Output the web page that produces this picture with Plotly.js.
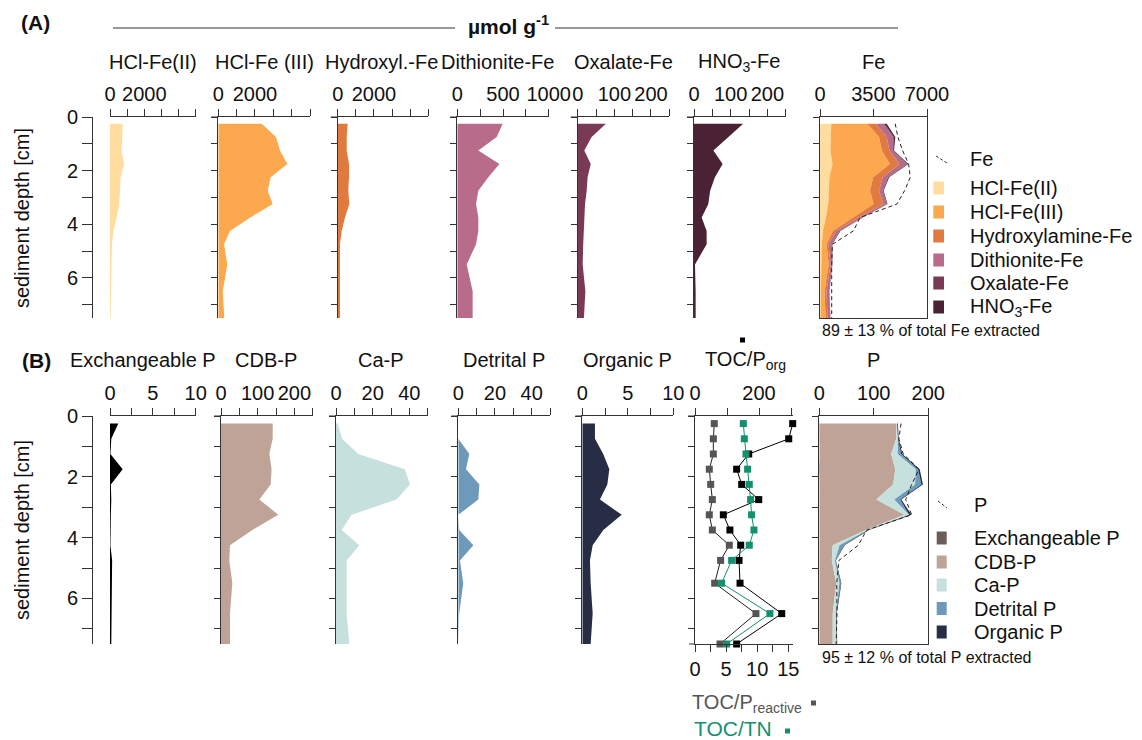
<!DOCTYPE html>
<html><head><meta charset="utf-8">
<script src="https://cdn.plot.ly/plotly-3.0.1.min.js"></script>
<style>html,body{margin:0;padding:0;background:#fff}#chart{width:1142px;height:740px}</style>
</head><body><div id="chart"></div>
<script>
// ---------- data ----------
const depth = [0.25,0.75,1.25,1.75,2.25,2.75,3.25,3.75,4.25,4.75,5.5,6.5,7.5];

// Fe fractions (µmol g-1)
const hclFe2   = [739, 718, 681, 817, 622, 583, 544, 389, 194, 117, 78, 58, 39];
const hclFe3   = [2366, 3146, 3364, 3762, 2857, 2693, 2966, 1745, 638, 311, 491, 240, 327];
const hydroxFe = [552, 497, 497, 624, 624, 585, 640, 403, 221, 127, 127, 127, 127];
const dithFe   = [497, 431, 230, 460, 339, 230, 205, 230, 230, 205, 103, 168, 168];
const oxalFe   = [77, 38, 18, 35.5, 27, 24.6, 20, 18, 17, 15, 13.6, 21, 17];
const hno3Fe   = [134, 94, 53, 78, 57, 44, 39, 21, 34.5, 34.5, 2.7, 4.5, 4.5];
const totalFe  = [4920, 5096, 5402, 5795, 5904, 5532, 5030, 2624, 2187, 809, 765, 765, 765];

// P fractions (µmol g-1)
const exchP    = [0.97, 0.15, 0.05, 1.48, 0.1, 0.15, 0.1, 0.08, 0.05, 0.25, 0.2, 0.15, 0.15];
const cdbP     = [140.9, 140.9, 131.8, 138, 135.4, 104.5, 156.3, 85.4, 24.5, 22.7, 30.9, 24.5, 24.5];
const caP      = [1, 3.3, 12.2, 37.6, 40.3, 33, 8.5, 3.1, 12.7, 5.8, 5.8, 5.8, 7.3];
const detrP    = [0, 0, 6, 4.2, 11.5, 10.9, 0, 0.5, 8.2, 0.9, 2.7, 0.5, 0];
const orgP     = [1.39, 1.39, 2.3, 2.97, 2.75, 1.94, 4.33, 2.31, 1.14, 0.84, 0.92, 1.14, 0.92];
const totalP   = [150, 146, 154, 183, 169.5, 158.5, 169.5, 87, 71.6, 36, 32, 32.5, 31];

// ratios
const tocPorg     = [305, 292.7, 167.7, 130, 145.8, 199, 88.5, 109, 142.7, 137.5, 140.6, 270.8, 130];
const tocPreact   = [3.1, 2.95, 2.95, 2.3, 2.52, 2.79, 2.3, 2.79, 5.52, 4.12, 3.16, 9.8, 4.02];
const tocTN       = [7.77, 7.93, 8.2, 8.46, 8.73, 8.94, 9.1, 9.48, 8.73, 5.89, 4.28, 12.05, 5.09];

// labels
const feNames  = ['HCl-Fe(II)','HCl-Fe(III)','Hydroxylamine-Fe','Dithionite-Fe','Oxalate-Fe','HNO<sub>3</sub>-Fe'];
const feTitles = ['HCl-Fe(II)','HCl-Fe (III)','Hydroxyl.-Fe','Dithionite-Fe','Oxalate-Fe','HNO<sub>3</sub>-Fe','Fe'];
const pNames   = ['Exchangeable P','CDB-P','Ca-P','Detrital P','Organic P'];
const pTitles  = ['Exchangeable P','CDB-P','Ca-P','Detrital P','Organic P','TOC/P<sub>org</sub>','P'];
const depthTicks = [0,1,2,3,4,5,6,7];
const depthText  = ['0','','2','','4','','6',''];

// ---------- styling / geometry ----------
const W = 1142, H = 740;
const PX = v => v / W, PY = v => 1 - v / H;
const FONT = 'Liberation Sans, Arial, sans-serif';
const AX = '#333';
const feColors = ['#fedd9e','#fca84e','#e07a3e','#b96b8a','#7a3a55','#4b2233'];
const pColors  = ['#6d5d58','#c0a397','#c6e0dd','#6d9abb','#262d45'];
const pPanelColors = ['#000000','#c0a397','#c6e0dd','#6d9abb','#262d45'];
const greyC = '#555555', greenC = '#14906f';

const rowA = {top:117, bot:318};
const rowB = {top:416, bot:644};
const colA = [[110,195.7],[218.3,310],[337.7,428.3],[457.3,548.7],[577.7,669.3],[694,785.7],[820,927]];
const colB = [[110,195.7],[221,312.7],[336,427.7],[458.3,550],[582.3,673.3],[695,793],[819.3,928.3]];
const rangesA = [[0,5000],[0,5000],[0,5000],[0,1000],[0,250],[0,250],[0,7000]];
const rangesB = [[0,10],[0,250],[0,50],[0,50],[0,10],[0,306],[0,200]];
const ticksA = [
  [[0,1000,2000,3000,4000,5000],['0','','2000','','','']],
  [[0,1000,2000,3000,4000,5000],['0','','2000','','','']],
  [[0,1000,2000,3000,4000,5000],['0','','2000','','','']],
  [[0,250,500,750,1000],['0','','500','','1000']],
  [[0,50,100,150,200,250],['0','','100','','200','']],
  [[0,50,100,150,200,250],['0','','100','','200','']],
  [[0,3500,7000],['0','3500','7000']]
];
const ticksB = [
  [[0,2.5,5,7.5,10],['0','','5','','10']],
  [[0,50,100,150,200,250],['0','','100','','200','']],
  [[0,10,20,30,40,50],['0','','20','','40','']],
  [[0,10,20,30,40,50],['0','','20','','40','']],
  [[0,2.5,5,7.5,10],['0','','5','','10']],
  [[0,100,200,300],['0','','200','']],
  [[0,100,200],['0','100','200']]
];

const layout = {
  width: W, height: H, margin:{l:0,r:0,t:0,b:0},
  paper_bgcolor:'#fff', plot_bgcolor:'rgba(0,0,0,0)',
  showlegend:false,
  font:{family:FONT, size:20, color:'#111'},
  annotations:[], shapes:[]
};

function xAxisDef(dom, rng, tk, anchor, boxed){
  return {domain:[PX(dom[0]),PX(dom[1])], range:rng, anchor:anchor, side:'top',
    showline:true, linecolor:AX, linewidth:1, mirror: boxed ? true : false,
    ticks:'outside', ticklen:7, tickcolor:AX, tickwidth:1, tickangle:0,
    tickmode:'array', tickvals:tk[0], ticktext:tk[1],
    tickfont:{family:FONT,size:20,color:'#111'}, showgrid:false, zeroline:false, fixedrange:true};
}
function yAxisDef(row, anchor, labelled, boxed){
  const d = {domain:[PY(row.bot),PY(row.top)], range:[7.5,0],
    showline:true, linecolor:AX, linewidth:1, mirror: boxed ? true : false,
    ticks:'outside', tickcolor:AX, tickwidth:1, tickangle:0,
    tickmode:'array', tickvals:depthTicks, ticktext:depthText,
    showgrid:false, zeroline:false, fixedrange:true,
    tickfont:{family:FONT,size:20,color:'#111'}};
  if (labelled){ d.anchor='free'; d.position=PX(92); d.ticklen=10; d.showticklabels=true; }
  else { d.anchor=anchor; d.ticklen=6; d.showticklabels=false; }
  return d;
}

for (let i=0;i<7;i++){
  const n=i+1, m=i+8;
  layout['xaxis'+n] = xAxisDef(colA[i], rangesA[i], ticksA[i], 'y'+n, i===6);
  layout['yaxis'+n] = yAxisDef(rowA, 'x'+n, i===0, i===6);
  layout['xaxis'+m] = xAxisDef(colB[i], rangesB[i], ticksB[i], 'y'+m, i===6);
  layout['yaxis'+m] = yAxisDef(rowB, 'x'+m, i===0, i===6);
}
// bottom axis for TOC/P_reactive and TOC/TN
layout.xaxis15 = Object.assign(xAxisDef(colB[5],[0,15.76],[[0,2.5,5,7.5,10,12.5,15],['0','','5','','10','','15']],'y13',false),
  {side:'bottom', overlaying:'x13'});

const traces = [];
const feSeries = [hclFe2,hclFe3,hydroxFe,dithFe,oxalFe,hno3Fe];
feSeries.forEach((s,i)=>{
  traces.push({type:'scatter', x:s, y:depth, xaxis:'x'+(i+1), yaxis:'y'+(i+1),
    mode:'lines', line:{width:0,color:feColors[i]}, fill:'tozerox', fillcolor:feColors[i], hoverinfo:'skip'});
});
feSeries.forEach((s,i)=>{
  traces.push({type:'scatter', x:s, y:depth, xaxis:'x7', yaxis:'y7', stackgroup:'fe', orientation:'h',
    mode:'lines', line:{width:0,color:feColors[i]}, fillcolor:feColors[i], name:feNames[i], hoverinfo:'skip'});
});
traces.push({type:'scatter', x:totalFe, y:depth, xaxis:'x7', yaxis:'y7', mode:'lines',
  line:{color:'#222', width:1, dash:'4px,3px'}, name:'Fe'});

const pSeries = [exchP,cdbP,caP,detrP,orgP];
pSeries.forEach((s,i)=>{
  traces.push({type:'scatter', x:s, y:depth, xaxis:'x'+(i+8), yaxis:'y'+(i+8),
    mode:'lines', line:{width:0,color:pPanelColors[i]}, fill:'tozerox', fillcolor:pPanelColors[i], hoverinfo:'skip'});
});
pSeries.forEach((s,i)=>{
  traces.push({type:'scatter', x:s, y:depth, xaxis:'x14', yaxis:'y14', stackgroup:'p', orientation:'h',
    mode:'lines', line:{width:0,color:pColors[i]}, fillcolor:pColors[i], name:pNames[i], hoverinfo:'skip'});
});
traces.push({type:'scatter', x:totalP, y:depth, xaxis:'x14', yaxis:'y14', mode:'lines',
  line:{color:'#222', width:1, dash:'4px,3px'}, name:'P'});

traces.push({type:'scatter', x:tocPreact, y:depth, xaxis:'x15', yaxis:'y13', mode:'lines+markers', cliponaxis:false,
  line:{color:'#222',width:1}, marker:{symbol:'square',size:7,color:greyC}, name:'TOC/P reactive'});
traces.push({type:'scatter', x:tocTN, y:depth, xaxis:'x15', yaxis:'y13', mode:'lines+markers', cliponaxis:false,
  line:{color:greenC,width:1}, marker:{symbol:'square',size:7,color:greenC}, name:'TOC/TN'});
traces.push({type:'scatter', x:tocPorg, y:depth, xaxis:'x13', yaxis:'y13', mode:'lines+markers', cliponaxis:false,
  line:{color:'#000',width:1}, marker:{symbol:'square',size:7,color:'#000'}, name:'TOC/P org'});

// ---------- text ----------
function ann(text, x, y, o){
  layout.annotations.push(Object.assign({text:text, x:PX(x), y:PY(y), xref:'paper', yref:'paper',
    showarrow:false, xanchor:'center', yanchor:'middle', font:{family:FONT,size:20,color:'#111'}}, o||{}));
}
ann('<b>(A)</b>', 35, 22, {font:{family:FONT,size:21,color:'#111'}});
ann('<b>(B)</b>', 36, 360, {font:{family:FONT,size:21,color:'#111'}});
ann('<b>µmol g<sup>-1</sup></b>', 508, 25, {font:{family:FONT,size:21,color:'#111'}});
const titleAx = [152.5,264,381.5,497,623.5,739,873.5];
feTitles.forEach((t,i)=>ann(t, titleAx[i], 62));
const titleBx = [143,266,381,504,627.3,745,873.3];
pTitles.forEach((t,i)=>ann(t, titleBx[i], 360));
ann('sediment depth [cm]', 22, 218, {textangle:-90});
ann('sediment depth [cm]', 22, 530, {textangle:-90});
ann('89 ± 13 % of total Fe extracted', 820, 330, {xanchor:'left', font:{family:FONT,size:16,color:'#111'}});
ann('95 ± 12 % of total P extracted', 820, 657, {xanchor:'left', font:{family:FONT,size:16,color:'#111'}});
ann('TOC/P<sub>reactive</sub>', 690, 703, {xanchor:'left', font:{family:FONT,size:20,color:greyC}});
ann('TOC/TN', 692, 728, {xanchor:'left', font:{family:FONT,size:21,color:greenC}});

// legends and decorations
function rect(x0,y0,x1,y1,c){
  layout.shapes.push({type:'rect', xref:'paper', yref:'paper', x0:PX(x0), x1:PX(x1), y0:PY(y1), y1:PY(y0),
    fillcolor:c, line:{width:0}});
}
function hline(x0,y0,x1,y1,dash,w){
  layout.shapes.push({type:'line', xref:'paper', yref:'paper', x0:PX(x0), x1:PX(x1), y0:PY(y0), y1:PY(y1),
    line:{color:AX, width:w||1, dash:dash||'solid'}});
}
hline(113,28,455,28,'solid',1.2);
hline(555,28,898,28,'solid',1.2);
// top axis lines continue a little to the left of zero (over the y ticks)
[1,2,3,4,5].forEach(i=>hline(colA[i][0]-7, rowA.top, colA[i][0], rowA.top));
[1,2,3,4,5].forEach(i=>hline(colB[i][0]-7, rowB.top, colB[i][0], rowB.top));
hline(colB[5][0]-6, rowB.bot, colB[5][0], rowB.bot);

hline(936,156,947,163,'3px,2px',1);
ann('Fe', 968, 159, {xanchor:'left'});
const feLegY = [188,212,236,260,283,307];
feNames.forEach((t,i)=>{ rect(933.3, feLegY[i]-6.5, 944, feLegY[i]+6.5, feColors[i]); ann(t, 968, feLegY[i], {xanchor:'left'}); });

hline(938,501,947,508,'3px,2px',1);
ann('P', 971.5, 505, {xanchor:'left'});
const pLegY = [538,562,585,608.5,632];
pNames.forEach((t,i)=>{ rect(936.7, pLegY[i]-6.5, 946.7, pLegY[i]+6.5, pColors[i]); ann(t, 971.5, pLegY[i], {xanchor:'left'}); });

rect(740, 337.5, 745, 342.5, '#000');
rect(811, 700.5, 816, 705.5, greyC);
rect(785, 728.5, 790, 733.5, greenC);

Plotly.newPlot('chart', traces, layout, {staticPlot:true, displayModeBar:false});
</script>
</body></html>
